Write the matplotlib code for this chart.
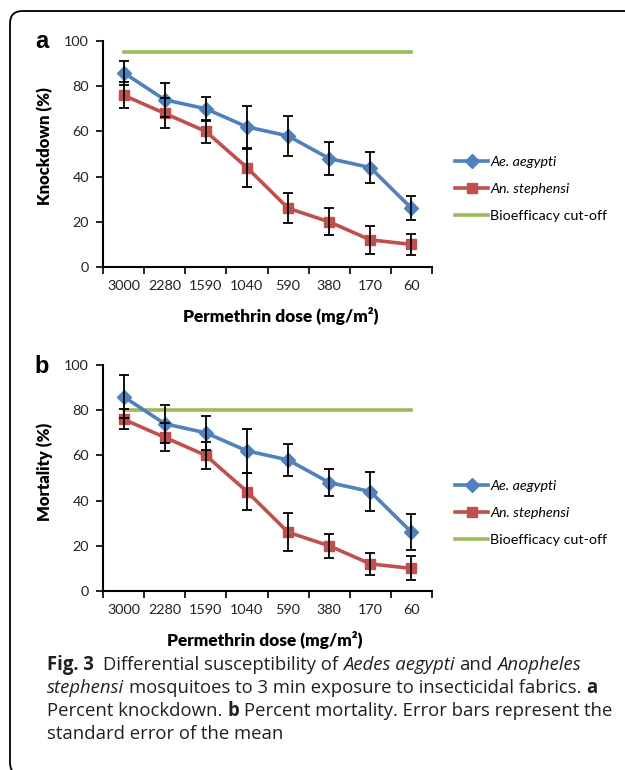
import numpy as np
import matplotlib.pyplot as plt
from matplotlib.lines import Line2D
from matplotlib.patches import FancyBboxPatch

doses = ["3000", "2280", "1590", "1040", "590", "380", "170", "60"]

# panel a - knockdown
kd_aegypti = [86, 74, 70, 62, 58, 48, 44, 26]
kd_aegypti_se = [5.3, 7.6, 5.2, 9.4, 8.7, 7.4, 7.0, 5.2]
kd_stephensi = [76, 68, 60, 44, 26, 20, 12, 10]
kd_stephensi_se = [5.8, 6.7, 5.2, 8.4, 6.7, 6.0, 6.1, 4.6]
kd_cutoff = 95

# panel b - mortality
mort_aegypti = [86, 74, 70, 62, 58, 48, 44, 26]
mort_aegypti_se = [9.6, 8.4, 7.4, 9.9, 7.2, 6.1, 8.6, 8.0]
mort_stephensi = [76, 68, 60, 44, 26, 20, 12, 10]
mort_stephensi_se = [4.4, 6.2, 5.9, 8.1, 8.4, 5.2, 5.0, 5.3]
mort_cutoff = 80

BLUE = "#4F81BD"
RED = "#C0504D"
GREEN = "#9BBB59"
chart_font = "Lato"
cap_font = "Open Sans"

W, H = 625, 770
fig = plt.figure(figsize=(W / 100, H / 100), dpi=100)
renderer = fig.canvas.get_renderer()


def px(x, y):
    return x / W, 1 - y / H


def text_width(s, size, family, weight="normal", style="normal"):
    t = fig.text(0, 0, s, fontsize=size, family=family, fontweight=weight, fontstyle=style)
    w = t.get_window_extent(renderer).width
    t.remove()
    return w


def fit(s, target, family, weight="normal", style="normal"):
    # font size giving the width measured on the reference
    return 10 * target / text_width(s, 10, family, weight, style)


tick_size = fit("3000", 33, chart_font)
ylab_size = fit("Knockdown (%)", 118, chart_font, "heavy")
xlab_size = fit("Permethrin dose (mg/m²)", 197, chart_font, "heavy")
leg_size = fit("Bioefficacy cut-off", 117, chart_font)


def panel(top_px, bottom_px, aeg, aeg_se, ste, ste_se, cutoff, letter, ylabel,
          ylab_y, xlab_x):
    l, b = px(103, bottom_px)
    r, t = px(432, top_px)
    ax = fig.add_axes([l, b, r - l, t - b])
    x = np.arange(len(doses))
    ax.plot([x[0], x[-1]], [cutoff, cutoff], color=GREEN, lw=2.6, zorder=2)
    ax.plot(x, ste, color=RED, lw=2.6, marker="s", ms=7.5, zorder=3)
    ax.plot(x, aeg, color=BLUE, lw=2.6, marker="D", ms=7, zorder=3)
    ax.errorbar(x, aeg, yerr=aeg_se, fmt="none", ecolor="black", elinewidth=1.3,
                capsize=3.5, capthick=1.3, zorder=4)
    ax.errorbar(x, ste, yerr=ste_se, fmt="none", ecolor="black", elinewidth=1.3,
                capsize=3.5, capthick=1.3, zorder=4)
    ax.set_xlim(-0.5, 7.5)
    ax.set_ylim(0, 100)
    ax.set_yticks(range(0, 101, 20))
    ax.set_xticks(np.arange(-0.5, 8, 1))
    ax.set_xticklabels([])
    ax.set_xticks(x, minor=True)
    ax.set_xticklabels(doses, minor=True)
    ax.tick_params(axis="x", which="minor", length=0, pad=9)
    ax.tick_params(axis="both", which="major", length=5, width=1.2, direction="out")
    ax.tick_params(axis="y", pad=5)
    ax.tick_params(which="both", labelsize=tick_size)
    for lab in ax.get_xticklabels(minor=True) + ax.get_yticklabels():
        lab.set_fontfamily(chart_font)
        lab.set_color("#222222")
    for s in ["top", "right"]:
        ax.spines[s].set_visible(False)
    for s in ["left", "bottom"]:
        ax.spines[s].set_linewidth(1.5)
    ax.patch.set_alpha(0)
    fx, fy = px(45, ylab_y)
    fig.text(fx, fy, ylabel, rotation=90, ha="center", va="center",
             fontsize=ylab_size, fontweight="heavy", family=chart_font)
    fx, fy = px(xlab_x, bottom_px + 49)
    fig.text(fx, fy, "Permethrin dose (mg/m²)", ha="center", va="center",
             fontsize=xlab_size, fontweight="heavy", family=chart_font)
    fx, fy = px(42, top_px + 1)
    fig.text(fx, fy, letter, ha="center", va="center", fontsize=17,
             fontweight="bold", family="Liberation Sans")
    return ax


ax1 = panel(41, 267, kd_aegypti, kd_aegypti_se, kd_stephensi, kd_stephensi_se,
            kd_cutoff, "a", "Knockdown (%)", 146, 281)
ax2 = panel(365, 591, mort_aegypti, mort_aegypti_se, mort_stephensi, mort_stephensi_se,
            mort_cutoff, "b", "Mortality (%)", 472, 265)

handles = [
    Line2D([], [], color=BLUE, lw=2.6, marker="D", ms=7),
    Line2D([], [], color=RED, lw=2.6, marker="s", ms=7.5),
    Line2D([], [], color=GREEN, lw=2.6),
]
labels = ["Ae. aegypti", "An. stephensi", "Bioefficacy cut-off"]
leg_px = leg_size * 100 / 72
for ycen in (189, 513):
    lx, ly = px(455, ycen)
    leg = fig.legend(handles, labels, loc="center left", bbox_to_anchor=(lx, ly),
                     frameon=False, handlelength=33 / leg_px, handletextpad=2 / leg_px,
                     borderpad=0, borderaxespad=0,
                     labelspacing=(29.5 - leg_px) / leg_px,
                     prop={"family": chart_font, "size": leg_size})
    for t in leg.get_texts()[:2]:
        t.set_fontstyle("italic")

# caption with mixed styles
caption = [
    [("Fig. 3", "bold", "normal"), ("  Differential susceptibility of ", "normal", "normal"),
     ("Aedes aegypti", "normal", "italic"), (" and ", "normal", "normal"),
     ("Anopheles", "normal", "italic")],
    [("stephensi", "normal", "italic"),
     (" mosquitoes to 3 min exposure to insecticidal fabrics. ", "normal", "normal"),
     ("a", "bold", "normal")],
    [("Percent knockdown. ", "normal", "normal"), ("b", "bold", "normal"),
     (" Percent mortality. Error bars represent the", "normal", "normal")],
    [("standard error of the mean", "normal", "normal")],
]


def line_width(line, size):
    sp = text_width("x x", size, cap_font) - text_width("xx", size, cap_font)
    w = 0
    for s, weight, style in line:
        core = s.strip(" ")
        w += text_width(core, size, cap_font, weight, style) + (len(s) - len(core)) * sp
    return w


cap_size = 10 * 536 / line_width(caption[0], 10)
space_w = text_width("x x", cap_size, cap_font) - text_width("xx", cap_size, cap_font)
for i, line in enumerate(caption):
    xpos = 47
    ypos = 665 + i * 23
    for s, weight, style in line:
        lead = len(s) - len(s.lstrip(" "))
        trail = len(s) - len(s.rstrip(" "))
        core = s.strip(" ")
        xpos += lead * space_w
        fx, fy = px(xpos, ypos)
        fig.text(fx, fy, core, fontsize=cap_size, family=cap_font, fontweight=weight,
                 fontstyle=style, ha="left", va="center", color="#231f20")
        xpos += text_width(core, cap_size, cap_font, weight, style) + trail * space_w

# frame around the figure
bx, by = px(10, 775)
box = FancyBboxPatch((bx, by), 1.2, 1 - 11 / H - by, boxstyle="round,pad=0,rounding_size=0.02",
                     transform=fig.transFigure, fill=False, lw=1.3, ec="black",
                     mutation_aspect=W / H)
fig.patches.append(box)

fig.savefig("out.png", dpi=100)
